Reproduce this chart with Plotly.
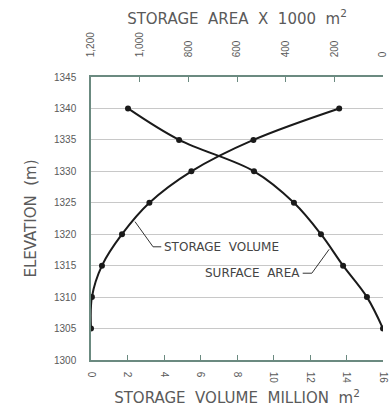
import plotly.graph_objects as go

elev = [1305, 1310, 1315, 1320, 1325, 1330, 1335, 1340]
volume = [0.0, 0.05, 0.6, 1.7, 3.2, 5.5, 8.9, 13.6]      # million m3
area = [0, 66, 164, 255, 366, 530, 838, 1048]              # x 1000 m2

yticks = list(range(1300, 1350, 5))
xticks_bot = list(range(0, 18, 2))
xticks_top = list(range(0, 1400, 200))
xtop_labels = ['0', '200', '400', '600', '800', '1,000', '1,200']

font = 'Liberation Sans, Arial, sans-serif'
tfont = 'DejaVu Sans, Verdana, sans-serif'
grey = '#5a5a5a'
axcol = '#6b8a80'
sp = '&nbsp;&nbsp;'

fig = go.Figure()
fig.add_trace(go.Scatter(x=volume, y=elev, mode='lines+markers', line_shape='spline',
                         line=dict(color='#1a1a1a', width=2),
                         marker=dict(size=6, color='#1a1a1a'), name='Storage volume'))
fig.add_trace(go.Scatter(x=area, y=elev, xaxis='x2', mode='lines+markers', line_shape='spline',
                         line=dict(color='#1a1a1a', width=2),
                         marker=dict(size=6, color='#1a1a1a'), name='Surface area'))

# leader lines for the curve labels
fig.add_shape(type='path', xref='x', yref='y', path='M 2.41 1322 L 3.4 1318 L 3.85 1318',
              line=dict(color='#333', width=1))
fig.add_shape(type='path', xref='x', yref='y', path='M 11.6 1313.8 L 12.1 1313.8 L 13.05 1317.6',
              line=dict(color='#333', width=1))
fig.add_annotation(x=3.9, y=1318, xref='x', yref='y', text='STORAGE' + sp + 'VOLUME', showarrow=False,
                   xanchor='left', font=dict(size=12, color='#444', family=tfont))
fig.add_annotation(x=11.55, y=1313.8, xref='x', yref='y', text='SURFACE' + sp + 'AREA', showarrow=False,
                   xanchor='right', font=dict(size=12, color='#444', family=tfont))

fig.update_layout(
    width=389, height=414, template='plotly_white', showlegend=False,
    margin=dict(l=91, r=6, t=77, b=54),
    plot_bgcolor='white', paper_bgcolor='white',
    font=dict(family=font, color=grey, size=10),
    xaxis=dict(range=[0, 16], tickvals=xticks_bot, tickangle=90, showgrid=False, automargin=False,
               showline=True, linecolor=axcol, linewidth=1.5, ticks='inside', ticklen=5,
               tickcolor=axcol, zeroline=False, ticklabelstandoff=8,
               tickfont=dict(size=10, color=grey),
               title=dict(text='STORAGE' + sp + 'VOLUME' + sp + 'MILLION' + sp + 'm<sup>2</sup>',
                          font=dict(size=15, color=grey, family=tfont), standoff=10)),
    xaxis2=dict(range=[1200, 0], overlaying='x', side='top', tickvals=xticks_top, automargin=False,
                ticktext=xtop_labels, tickangle=-90, showgrid=False, showline=True,
                linecolor=axcol, linewidth=1.5, ticks='inside', ticklen=5, tickcolor=axcol,
                zeroline=False, tickfont=dict(size=10, color=grey), ticklabelstandoff=16,
                title=dict(text='STORAGE' + sp + 'AREA' + sp + 'X' + sp + '1000' + sp + 'm<sup>2</sup>',
                           font=dict(size=15, color=grey, family=tfont), standoff=4)),
    yaxis=dict(range=[1300, 1345], tickvals=yticks, showgrid=True, gridcolor='#c8c8c8', automargin=False,
               gridwidth=1, showline=True, linecolor=axcol, linewidth=1.5, zeroline=False,
               ticks='', tickfont=dict(size=10, color=grey), ticklabelstandoff=11,
               title=dict(text='ELEVATION' + sp + '(m)', font=dict(size=15, color=grey, family=tfont),
                          standoff=14)),
)

fig.write_html("out.html", config={'displayModeBar': False},
               post_script="document.body.style.margin='0';")
